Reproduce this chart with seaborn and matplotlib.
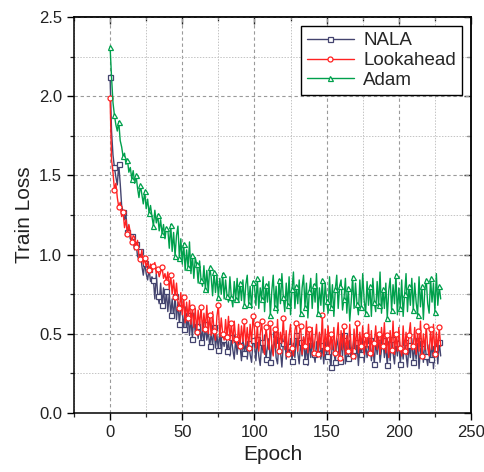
import matplotlib
matplotlib.use('Agg')
import matplotlib.pyplot as plt
import seaborn as sns
import pandas as pd
from matplotlib.ticker import MultipleLocator

epochs = list(range(230))

nala = [
    2.12, 1.78, 1.63, 1.55, 1.49, 1.44, 1.57, 1.45, 1.31, 1.27,
    1.22, 1.25, 1.14, 1.18, 1.10, 1.12, 1.09, 1.03, 1.07, 0.99,
    0.97, 1.02, 0.93, 0.87, 0.95, 0.88, 0.84, 0.91, 0.83, 0.86,
    0.84, 0.72, 0.88, 0.74, 0.69, 0.82, 0.68, 0.79, 0.66, 0.77,
    0.64, 0.76, 0.62, 0.72, 0.60, 0.74, 0.59, 0.70, 0.56, 0.68,
    0.64, 0.53, 0.67, 0.51, 0.62, 0.49, 0.60, 0.47, 0.63, 0.50,
    0.55, 0.47, 0.58, 0.45, 0.54, 0.43, 0.56, 0.46, 0.52, 0.42,
    0.50, 0.43, 0.54, 0.41, 0.49, 0.40, 0.52, 0.38, 0.47, 0.42,
    0.50, 0.39, 0.45, 0.36, 0.48, 0.40, 0.34, 0.47, 0.37, 0.46,
    0.43, 0.33, 0.47, 0.38, 0.45, 0.34, 0.44, 0.37, 0.32, 0.46,
    0.44, 0.33, 0.47, 0.36, 0.30, 0.45, 0.38, 0.49, 0.34, 0.42,
    0.47, 0.32, 0.43, 0.37, 0.50, 0.35, 0.31, 0.46, 0.39, 0.29,
    0.44, 0.48, 0.34, 0.42, 0.36, 0.47, 0.33, 0.44, 0.35, 0.49,
    0.38, 0.31, 0.45, 0.36, 0.48, 0.33, 0.43, 0.30, 0.46, 0.35,
    0.47, 0.37, 0.32, 0.45, 0.38, 0.50, 0.34, 0.43, 0.31, 0.45,
    0.36, 0.48, 0.35, 0.29, 0.46, 0.39, 0.32, 0.47, 0.42, 0.33,
    0.45, 0.36, 0.49, 0.31, 0.43, 0.35, 0.46, 0.33, 0.40, 0.48,
    0.34, 0.45, 0.30, 0.43, 0.37, 0.47, 0.32, 0.44, 0.35, 0.41,
    0.46, 0.33, 0.43, 0.31, 0.45, 0.37, 0.48, 0.32, 0.40, 0.46,
    0.35, 0.43, 0.30, 0.45, 0.33, 0.47, 0.38, 0.31, 0.44, 0.36,
    0.46, 0.31, 0.42, 0.34, 0.45, 0.37, 0.29, 0.43, 0.35, 0.47,
    0.32, 0.42, 0.34, 0.46, 0.28, 0.40, 0.44, 0.32, 0.45, 0.36,
    0.30, 0.43, 0.34, 0.46, 0.28, 0.41, 0.44, 0.31, 0.45, 0.36,
]

lookahead = [
    1.99, 1.60, 1.52, 1.41, 1.45, 1.36, 1.30, 1.33, 1.24, 1.27,
    1.17, 1.22, 1.13, 1.19, 1.14, 1.08, 1.12, 1.11, 1.05, 1.09,
    0.99, 0.97, 1.03, 0.94, 0.98, 0.92, 0.96, 0.90, 0.94, 0.89,
    0.93, 0.95, 0.88, 0.91, 0.86, 0.89, 0.92, 0.85, 0.88, 0.83,
    0.89, 0.78, 0.87, 0.75, 0.84, 0.73, 0.82, 0.70, 0.66, 0.76,
    0.62, 0.73, 0.57, 0.70, 0.60, 0.71, 0.56, 0.67, 0.54, 0.66,
    0.51, 0.65, 0.55, 0.67, 0.52, 0.63, 0.53, 0.68, 0.50, 0.62,
    0.49, 0.64, 0.52, 0.46, 0.61, 0.68, 0.48, 0.60, 0.50, 0.46,
    0.59, 0.48, 0.61, 0.46, 0.57, 0.44, 0.58, 0.47, 0.43, 0.56,
    0.42, 0.55, 0.45, 0.58, 0.43, 0.54, 0.41, 0.56, 0.44, 0.61,
    0.53, 0.41, 0.56, 0.39, 0.50, 0.58, 0.42, 0.37, 0.54, 0.46,
    0.40, 0.57, 0.44, 0.36, 0.53, 0.41, 0.59, 0.39, 0.51, 0.44,
    0.60, 0.40, 0.52, 0.37, 0.49, 0.56, 0.41, 0.36, 0.52, 0.57,
    0.39, 0.50, 0.55, 0.37, 0.48, 0.42, 0.58, 0.38, 0.53, 0.41,
    0.54, 0.38, 0.47, 0.56, 0.37, 0.51, 0.40, 0.62, 0.36, 0.53,
    0.41, 0.55, 0.37, 0.50, 0.40, 0.54, 0.38, 0.47, 0.57, 0.35,
    0.52, 0.40, 0.55, 0.37, 0.49, 0.39, 0.56, 0.42, 0.36, 0.53,
    0.40, 0.57, 0.38, 0.51, 0.42, 0.55, 0.37, 0.49, 0.41, 0.56,
    0.38, 0.52, 0.36, 0.44, 0.55, 0.40, 0.50, 0.37, 0.54, 0.42,
    0.57, 0.38, 0.49, 0.35, 0.52, 0.40, 0.58, 0.37, 0.50, 0.39,
    0.54, 0.41, 0.36, 0.55, 0.39, 0.51, 0.37, 0.49, 0.57, 0.40,
    0.42, 0.54, 0.37, 0.52, 0.39, 0.58, 0.36, 0.50, 0.40, 0.55,
    0.41, 0.36, 0.53, 0.40, 0.56, 0.37, 0.51, 0.39, 0.54, 0.42,
]

adam = [
    2.31, 2.12, 1.96, 1.88, 1.82, 1.78, 1.84, 1.72, 1.68, 1.62,
    1.64, 1.57, 1.60, 1.52, 1.55, 1.48, 1.53, 1.45, 1.50, 1.42,
    1.36, 1.44, 1.38, 1.32, 1.40, 1.29, 1.35, 1.26, 1.31, 1.24,
    1.18, 1.28, 1.20, 1.25, 1.15, 1.22, 1.13, 1.19, 1.10, 1.17,
    1.16, 1.04, 1.19, 1.02, 1.14, 0.99, 1.12, 1.18, 0.98, 1.10,
    0.94, 1.07, 0.90, 1.03, 0.92, 1.08, 0.88, 1.00, 0.85, 0.98,
    0.94, 0.82, 0.96, 0.84, 0.80, 0.93, 0.78, 0.90, 0.76, 0.92,
    0.86, 0.74, 0.89, 0.76, 0.87, 0.73, 0.85, 0.75, 0.88, 0.72,
    0.84, 0.74, 0.70, 0.86, 0.73, 0.67, 0.83, 0.72, 0.85, 0.70,
    0.82, 0.71, 0.84, 0.68, 0.81, 0.87, 0.69, 0.80, 0.66, 0.83,
    0.80, 0.68, 0.85, 0.66, 0.79, 0.72, 0.86, 0.64, 0.81, 0.70,
    0.83, 0.62, 0.77, 0.87, 0.67, 0.80, 0.63, 0.84, 0.69, 0.88,
    0.73, 0.64, 0.82, 0.68, 0.86, 0.62, 0.78, 0.89, 0.66, 0.80,
    0.69, 0.84, 0.63, 0.79, 0.87, 0.67, 0.82, 0.60, 0.77, 0.85,
    0.66, 0.81, 0.70, 0.88, 0.63, 0.79, 0.68, 0.84, 0.64, 0.82,
    0.71, 0.63, 0.86, 0.67, 0.81, 0.61, 0.78, 0.87, 0.66, 0.80,
    0.84, 0.65, 0.72, 0.85, 0.63, 0.79, 0.58, 0.70, 0.86, 0.66,
    0.82, 0.69, 0.62, 0.84, 0.67, 0.88, 0.71, 0.63, 0.83, 0.68,
    0.80, 0.61, 0.85, 0.70, 0.64, 0.83, 0.68, 0.89, 0.63, 0.78,
    0.66, 0.82, 0.60, 0.77, 0.85, 0.65, 0.81, 0.69, 0.87, 0.62,
    0.79, 0.66, 0.84, 0.61, 0.75, 0.88, 0.64, 0.80, 0.68, 0.85,
    0.65, 0.82, 0.70, 0.62, 0.86, 0.67, 0.80, 0.59, 0.78, 0.84,
    0.69, 0.63, 0.85, 0.70, 0.82, 0.64, 0.88, 0.68, 0.80, 0.72,
]

series_names = ['NALA', 'Lookahead', 'Adam']
series_values = [nala, lookahead, adam]
x_ticks = [0, 50, 100, 150, 200, 250]
y_ticks = [0.0, 0.5, 1.0, 1.5, 2.0, 2.5]

sns.set_style('ticks')
plt.rcParams['font.family'] = ['Liberation Sans', 'DejaVu Sans']

colors = {'NALA': '#44446f', 'Lookahead': '#ff2222', 'Adam': '#00a04c'}
markers = {'NALA': 's', 'Lookahead': 'o', 'Adam': '^'}

fig = plt.figure(figsize=(4.84, 4.72), dpi=100)
ax = fig.add_axes([74 / 484, 1 - 413 / 472, (471 - 74) / 484, (413 - 17) / 472])

for name, vals in zip(series_names, series_values):
    df = pd.DataFrame({'Epoch': epochs, 'Train Loss': vals})
    sns.lineplot(data=df, x='Epoch', y='Train Loss', ax=ax, label=name,
                 color=colors[name], marker=markers[name], markevery=3,
                 markersize=3.6, markerfacecolor='white',
                 markeredgecolor=colors[name], markeredgewidth=0.9,
                 linewidth=1.0, estimator=None)

ax.set_xlim(-25, 250)
ax.set_ylim(0, 2.5)
ax.set_xticks(x_ticks)
ax.set_yticks(y_ticks)
ax.set_yticklabels([f'{v:.1f}' for v in y_ticks])
ax.xaxis.set_minor_locator(MultipleLocator(25))
ax.yaxis.set_minor_locator(MultipleLocator(0.25))

ax.set_axisbelow(True)
ax.grid(which='major', color='#9a9a9a', linestyle=(0, (3, 2.5)), linewidth=0.8)
ax.grid(which='minor', color='#c4c4c4', linestyle=(0, (1.5, 1.5)), linewidth=0.7)

for sp in ax.spines.values():
    sp.set_color('black')
    sp.set_linewidth(1.1)

ax.tick_params(which='major', direction='out', length=5, width=1, labelsize=12,
               colors='black', top=False, right=False)
ax.tick_params(which='minor', direction='out', length=3, width=0.9,
               top=False, right=False)
ax.tick_params(axis='both', labelcolor='#222222')

secx = ax.secondary_xaxis('top')
secx.set_xticks(x_ticks)
secx.xaxis.set_minor_locator(MultipleLocator(25))
secx.tick_params(which='major', direction='in', length=5, width=1, labeltop=False)
secx.tick_params(which='minor', direction='in', length=3, width=0.9)
secx.spines['top'].set_linewidth(1.1)

secy = ax.secondary_yaxis('right')
secy.set_yticks(y_ticks)
secy.yaxis.set_minor_locator(MultipleLocator(0.25))
secy.tick_params(which='major', direction='in', length=5, width=1, labelright=False)
secy.tick_params(which='minor', direction='in', length=3, width=0.9)
secy.spines['right'].set_linewidth(1.1)

ax.set_xlabel('Epoch', fontsize=15, color='#222222')
ax.set_ylabel('Train Loss', fontsize=15, color='#222222')

leg = ax.legend(loc='upper right', frameon=True, fancybox=False, edgecolor='black',
                framealpha=1, fontsize=13.5, borderaxespad=0.5, handlelength=2.5,
                labelspacing=0.15, borderpad=0.3, handletextpad=0.5)
leg.get_frame().set_linewidth(1.0)

fig.savefig('out.png', dpi=100)
